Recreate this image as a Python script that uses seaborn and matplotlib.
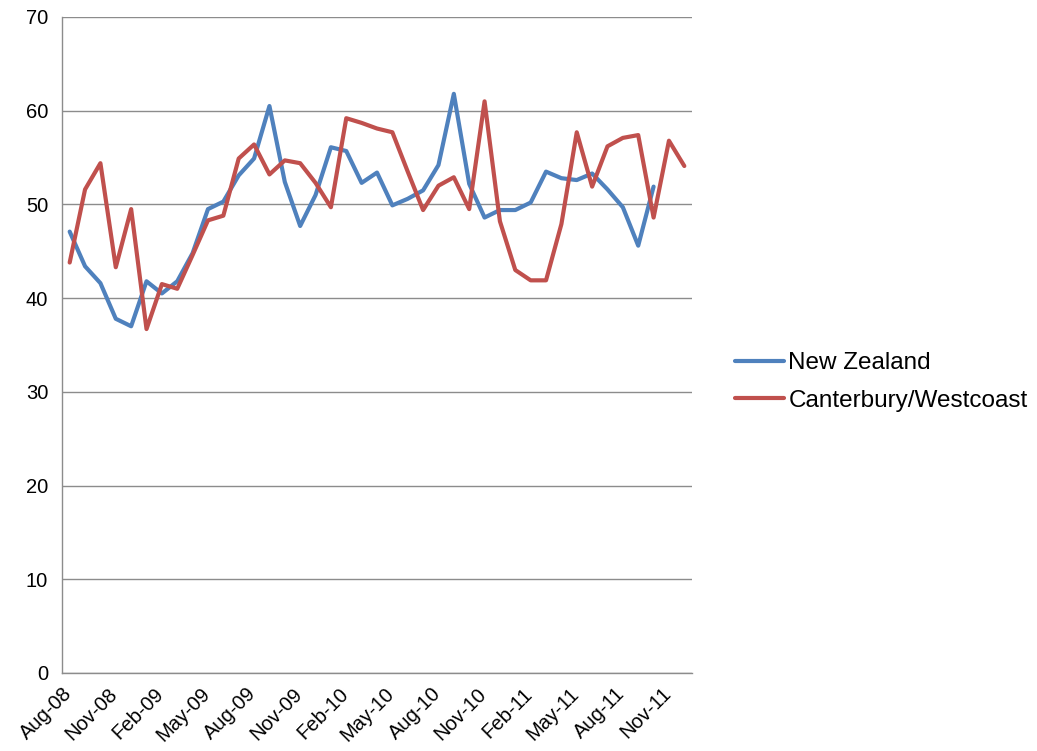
import pandas as pd
import matplotlib.pyplot as plt
import seaborn as sns

# --------------------------------
# DATA (monthly, Aug-08 .. Dec-11)
# --------------------------------

months = [
    "Aug-08", "Sep-08", "Oct-08", "Nov-08", "Dec-08", "Jan-09", "Feb-09", "Mar-09",
    "Apr-09", "May-09", "Jun-09", "Jul-09", "Aug-09", "Sep-09", "Oct-09", "Nov-09",
    "Dec-09", "Jan-10", "Feb-10", "Mar-10", "Apr-10", "May-10", "Jun-10", "Jul-10",
    "Aug-10", "Sep-10", "Oct-10", "Nov-10", "Dec-10", "Jan-11", "Feb-11", "Mar-11",
    "Apr-11", "May-11", "Jun-11", "Jul-11", "Aug-11", "Sep-11", "Oct-11", "Nov-11",
    "Dec-11",
]

new_zealand = [
    47.1, 43.4, 41.6, 37.8, 37.0, 41.8, 40.5, 41.8, 44.8, 49.5, 50.3, 53.1,
    54.9, 60.5, 52.4, 47.7, 51.0, 56.1, 55.7, 52.3, 53.4, 49.9, 50.6, 51.5,
    54.2, 61.8, 52.2, 48.6, 49.4, 49.4, 50.2, 53.5, 52.8, 52.6, 53.3, 51.6,
    49.7, 45.6, 51.9,
]

canterbury = [
    43.8, 51.6, 54.4, 43.3, 49.5, 36.7, 41.5, 41.0, 44.6, 48.3, 48.8, 54.9,
    56.4, 53.2, 54.7, 54.4, 52.3, 49.7, 59.2, 58.7, 58.1, 57.7, 53.5, 49.4,
    52.0, 52.9, 49.5, 61.0, 48.2, 43.0, 41.9, 41.9, 47.9, 57.7, 51.9, 56.2,
    57.1, 57.4, 48.6, 56.8, 54.1,
]

tick_labels = ["Aug-08", "Nov-08", "Feb-09", "May-09", "Aug-09", "Nov-09", "Feb-10",
               "May-10", "Aug-10", "Nov-10", "Feb-11", "May-11", "Aug-11", "Nov-11"]

series_names = ["New Zealand", "Canterbury/Westcoast"]
colors = ["#4F81BD", "#C0504D"]

# --------------------------------
# LONG FORMAT TABLE
# --------------------------------

df = pd.concat([
    pd.DataFrame({"idx": range(len(new_zealand)), "value": new_zealand,
                  "series": series_names[0]}),
    pd.DataFrame({"idx": range(len(canterbury)), "value": canterbury,
                  "series": series_names[1]}),
])

# --------------------------------
# PLOT
# --------------------------------

sns.set_style("white")
plt.rcParams["font.family"] = ["Liberation Sans", "DejaVu Sans"]
plt.rcParams["text.color"] = "black"
plt.rcParams["xtick.labelcolor"] = "black"
plt.rcParams["ytick.labelcolor"] = "black"

fig, ax = plt.subplots(figsize=(10.37, 7.51), dpi=100)
fig.subplots_adjust(left=62 / 1037, right=692 / 1037,
                    bottom=1 - 673 / 751, top=1 - 17 / 751)

sns.lineplot(
    data=df,
    x="idx",
    y="value",
    hue="series",
    hue_order=series_names,
    palette=colors,
    linewidth=3.0,
    ax=ax,
)

ax.set_xlim(-0.5, len(months) - 0.5)
ax.set_ylim(0, 70)
ax.set_yticks(range(0, 71, 10))
ax.yaxis.grid(True, color="#8C8C8C", linewidth=1)
ax.set_axisbelow(True)

# tick marks at category boundaries, every three months
ax.set_xticks([i - 0.5 for i in range(0, len(months), 3)])
ax.set_xticklabels(tick_labels, rotation=45, ha="right",
                   rotation_mode="anchor", fontsize=14.5)
ax.tick_params(axis="x", length=5, color="#8C8C8C", direction="out", pad=3)
ax.tick_params(axis="y", length=5, color="#8C8C8C", direction="out",
               labelsize=14.5, pad=5)

ax.set_xlabel("")
ax.set_ylabel("")

for side in ["top", "right"]:
    ax.spines[side].set_visible(False)
for side in ["left", "bottom"]:
    ax.spines[side].set_color("#8C8C8C")
    ax.spines[side].set_linewidth(1)

ax.legend(
    title=None,
    frameon=False,
    fontsize=17.5,
    loc="center left",
    bbox_to_anchor=(735 / 1037, 1 - 382 / 751),
    bbox_transform=fig.transFigure,
    handlelength=2.0,
    handletextpad=0.2,
    labelspacing=0.62,
    borderpad=0,
    borderaxespad=0,
)

plt.savefig("out.png", dpi=100)
